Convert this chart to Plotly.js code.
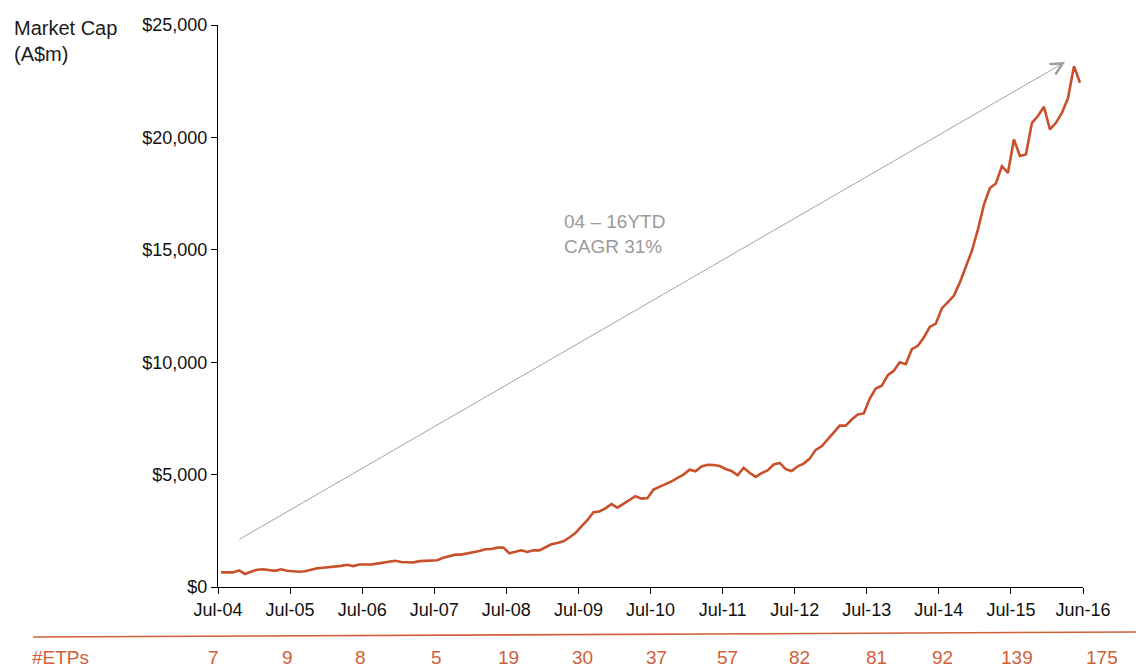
<!DOCTYPE html>
<html>
<head>
<meta charset="utf-8">
<script src="https://cdn.plot.ly/plotly-3.0.1.min.js"></script>
<style>
  html, body { margin: 0; padding: 0; background: #ffffff; }
  #chart { width: 1136px; height: 669px; }
</style>
</head>
<body>
<div id="chart"></div>
<script>
// Monthly market cap (A$m), Jul-2004 .. Jun-2016
const marketCap = [
  650, 650, 650, 740, 580, 680, 770, 790, 760, 720, 790, 720,
  700, 680, 700, 780, 830, 860, 880, 920, 940, 990, 930, 1000,
  1000, 1000, 1040, 1090, 1130, 1170, 1110, 1090, 1090, 1150, 1170, 1170,
  1190, 1300, 1370, 1440, 1440, 1490, 1540, 1600, 1680, 1690, 1750, 1750,
  1500, 1570, 1630, 1560, 1630, 1630, 1760, 1900, 1960, 2030, 2200, 2400,
  2700, 2970, 3330, 3360, 3500, 3690, 3530, 3710, 3880, 4040, 3930, 3960,
  4330, 4450, 4580, 4700, 4850, 5000, 5220, 5150, 5360, 5440, 5430, 5380,
  5250, 5160, 4970, 5300, 5080, 4900, 5070, 5190, 5450, 5520, 5240, 5160,
  5370, 5490, 5710, 6100, 6260, 6560, 6850, 7180, 7180, 7450, 7670, 7720,
  8380, 8830, 8950, 9420, 9620, 10000, 9910, 10580, 10730, 11100, 11570, 11720,
  12390, 12680, 12950, 13550, 14250, 14950, 15900, 17000, 17750, 17950, 18720, 18420,
  19910, 19170, 19240, 20650, 20950, 21360, 20360, 20650, 21100, 21740, 23170, 22430
];

// Axis tick labels (one per year, in months from Jul-04)
const tickLabels = ['Jul-04','Jul-05','Jul-06','Jul-07','Jul-08','Jul-09','Jul-10',
                    'Jul-11','Jul-12','Jul-13','Jul-14','Jul-15','Jun-16'];
const tickMonths = [0, 12, 24, 36, 48, 60, 72, 84, 96, 108, 120, 132, 144];

// Number of ETPs per year
const etpCounts = [7, 9, 8, 5, 19, 30, 37, 57, 82, 81, 92, 139, 175];

// Annotation texts
const yTitleText = 'Market Cap<br>(A$m)';
const cagrText = '04 \u2013 16YTD<br>CAGR 31%';
const etpLabel = '#ETPs';

// ---- build ----
const monthPos = marketCap.map((_, i) => i + 0.5);

const FONT = '"Liberation Sans", Arial, Helvetica, sans-serif';
const LINE_COLOR = '#c8502a';
const ETP_COLOR = '#d0603a';

const trace = {
  type: 'scatter',
  mode: 'lines',
  x: monthPos,
  y: marketCap,
  line: { color: LINE_COLOR, width: 2.6 },
  hoverinfo: 'skip'
};

const etpShift = [-5, -3, -2, 2, 2, 4, 6, 5, 5, 10, 4, 6, 19];

const annotations = [
  {
    xref: 'paper', yref: 'paper', x: -0.238, y: 1.018,
    xanchor: 'left', yanchor: 'top', align: 'left',
    text: yTitleText, showarrow: false,
    font: { family: FONT, size: 20, color: '#1a1a1a' }
  },
  {
    xref: 'paper', yref: 'paper', x: 0.3977, y: 0.628,
    xanchor: 'left', yanchor: 'middle', align: 'left',
    text: cagrText, showarrow: false,
    font: { family: FONT, size: 19, color: '#9a9a9a' }
  },
  {
    xref: 'x', yref: 'y', x: 141.0, y: 23350,
    axref: 'x', ayref: 'y', ax: 3.3, ay: 2080,
    text: '', showarrow: true,
    arrowhead: 5, arrowsize: 2.6, arrowwidth: 0.9, arrowcolor: '#9a9a9a',
    standoff: 0, startstandoff: 0
  },
  {
    xref: 'paper', yref: 'paper', x: -0.2173, y: -0.1263,
    xanchor: 'left', yanchor: 'middle',
    text: etpLabel, showarrow: false,
    font: { family: FONT, size: 19, color: ETP_COLOR }
  }
];

etpCounts.forEach((c, k) => {
  annotations.push({
    xref: 'x', yref: 'paper', x: tickMonths[k], y: -0.1263,
    xanchor: 'center', yanchor: 'middle', xshift: etpShift[k],
    text: String(c), showarrow: false,
    font: { family: FONT, size: 19, color: ETP_COLOR }
  });
});

const layout = {
  width: 1136, height: 669,
  margin: { l: 218, r: 53, t: 25, b: 82 },
  paper_bgcolor: '#ffffff', plot_bgcolor: '#ffffff',
  showlegend: false,
  font: { family: FONT, size: 18, color: '#111111' },
  xaxis: {
    range: [0, 144],
    tickmode: 'array', tickvals: tickMonths, ticktext: tickLabels,
    ticks: 'outside', ticklen: 6, tickwidth: 1, tickcolor: '#000000',
    showline: true, linecolor: '#000000', linewidth: 1,
    showgrid: false, zeroline: false,
    tickfont: { family: FONT, size: 18, color: '#111111' }
  },
  yaxis: {
    range: [0, 25000], dtick: 5000, tick0: 0,
    tickprefix: '$', tickformat: ',d',
    ticks: 'outside', ticklen: 6, tickwidth: 1, tickcolor: '#000000',
    showline: true, linecolor: '#000000', linewidth: 1,
    showgrid: false, zeroline: false,
    tickfont: { family: FONT, size: 18, color: '#111111' }
  },
  shapes: [
    {
      type: 'line', xref: 'paper', yref: 'paper',
      x0: -0.2139, y0: -0.089, x1: 1.0613, y1: -0.0801,
      line: { color: ETP_COLOR, width: 1.6 }
    }
  ],
  annotations: annotations
};

Plotly.newPlot('chart', [trace], layout, { displayModeBar: false, staticPlot: true });
</script>
</body>
</html>
